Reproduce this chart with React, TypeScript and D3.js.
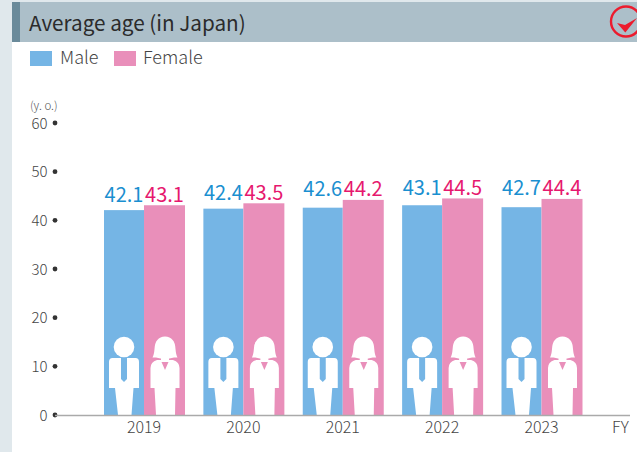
import React from "react";
import * as d3 from "d3";

const years = ["2019", "2020", "2021", "2022", "2023"];
const male = [42.1, 42.4, 42.6, 43.1, 42.7];
const female = [43.1, 43.5, 44.2, 44.5, 44.4];
const yTicks = [0, 10, 20, 30, 40, 50, 60];
const FONT = "'Noto Sans CJK JP', 'Noto Sans', sans-serif";

const x = d3.scaleLinear().domain([0, 4]).range([144, 541.5]);
const y = d3.scaleLinear().domain([0, 60]).range([415, 123]);

const MaleIcon = ({ cx }: { cx: number }) => (
  <g transform={`translate(${cx},415)`}>
    <circle cx={0} cy={-68} r={10.3} fill="#fff" />
    <path
      d="M-11.5,-57 Q-15,-57 -15,-53 L-15,-27 L-9,-27 L-6,0 L7.5,0 L9.5,-27 L15,-27 L15,-53 Q15,-57 11.5,-57 Z"
      fill="#fff"
    />
    <path d="M-3,-57 L3,-57 L3,-36 L0,-33 L-3,-36 Z" fill="#75b5e5" />
  </g>
);

const FemaleIcon = ({ cx }: { cx: number }) => (
  <g transform={`translate(${cx},415)`}>
    <path
      d="M-9,-57.5 L-12.5,-57.5 Q-11,-60 -10.5,-66 Q-10,-78 0,-78.5 Q10,-78 10.5,-66 Q11,-60 12.5,-57.5 L9,-57.5 Q0,-55 -9,-57.5 Z"
      fill="#fff"
    />
    <path
      d="M-4,-58 L4,-58 L4,-55 L8,-55 Q14.5,-53 14.5,-47 L14.5,-27 L10.5,-27 L10,0 L-9,0 L-10.5,-27 L-14.5,-27 L-14.5,-47 Q-14.5,-53 -8,-55 L-4,-55 Z"
      fill="#fff"
    />
    <path d="M-3.5,-53 L3.5,-53 L0,-45 Z" fill="#e98fba" />
  </g>
);

export default function App() {
  return (
    <svg
      width={637}
      height={452}
      style={{ position: "absolute", left: 0, top: 0, display: "block", background: "#fff" }}
      fontFamily={FONT}
    >
      <rect x={0} y={0} width={637} height={452} fill="#fff" />
      <rect x={0} y={0} width={12} height={452} fill="#e0e8ec" />
      <rect x={0} y={0} width={637} height={2} fill="#e0e8ec" />
      <rect x={12} y={2} width={625} height={40} fill="#acbfc9" />
      <rect x={12} y={2} width={8} height={40} fill="#6a8a9a" />
      <text x={29} y={31} fontSize={20.7} fill="#2b2b2b">Average age (in Japan)</text>
      <circle cx={626} cy={21.5} r={15} strokeWidth={2.4} fill="none" stroke="#ec1c2e" />
      <path d="M617,23 L625.3,32.5 L637,18 L625,25 Z" fill="#ec1c2e" />

      <rect x={30} y={51} width={22} height={15} fill="#75b5e5" />
      <text x={60} y={64} fontSize={18} fill="#444" fontWeight={300}>Male</text>
      <rect x={114} y={51} width={22} height={15} fill="#e98fba" />
      <text x={143} y={64} fontSize={18} fill="#444" fontWeight={300}>Female</text>

      <text x={30} y={110} fontSize={11.5} fill="#555" fontWeight={300}>(y. o.)</text>
      {yTicks.map((t) => (
        <g key={t}>
          <text x={47.5} y={y(t) + 5.5} fontSize={15} fill="#444" textAnchor="end" fontWeight={300}>{t}</text>
          <circle cx={55} cy={y(t)} r={2.4} fill="#333" />
        </g>
      ))}

      {years.map((yr, i) => (
        <g key={yr}>
          <rect x={x(i) - 40} y={y(male[i])} width={40} height={y(0) - y(male[i])} fill="#75b5e5" />
          <rect x={x(i)} y={y(female[i])} width={41} height={y(0) - y(female[i])} fill="#e98fba" />
          <MaleIcon cx={x(i) - 20} />
          <FemaleIcon cx={x(i) + 21} />
          <text x={x(i) - 20} y={y(female[i]) - 3.5} fontSize={20} fill="#1a8fd0" textAnchor="middle">{male[i].toFixed(1)}</text>
          <text x={x(i) + 20.5} y={y(female[i]) - 3.5} fontSize={20} fill="#e6186e" textAnchor="middle">{female[i].toFixed(1)}</text>
          <text x={x(i)} y={433} fontSize={16} fill="#444" textAnchor="middle" fontWeight={300}>{yr}</text>
        </g>
      ))}
      <line x1={55} x2={630} y1={415.5} y2={415.5} stroke="#aaa" strokeWidth={1.5} />
      <text x={612} y={433} fontSize={16} fill="#444" fontWeight={300}>FY</text>
    </svg>
  );
}
